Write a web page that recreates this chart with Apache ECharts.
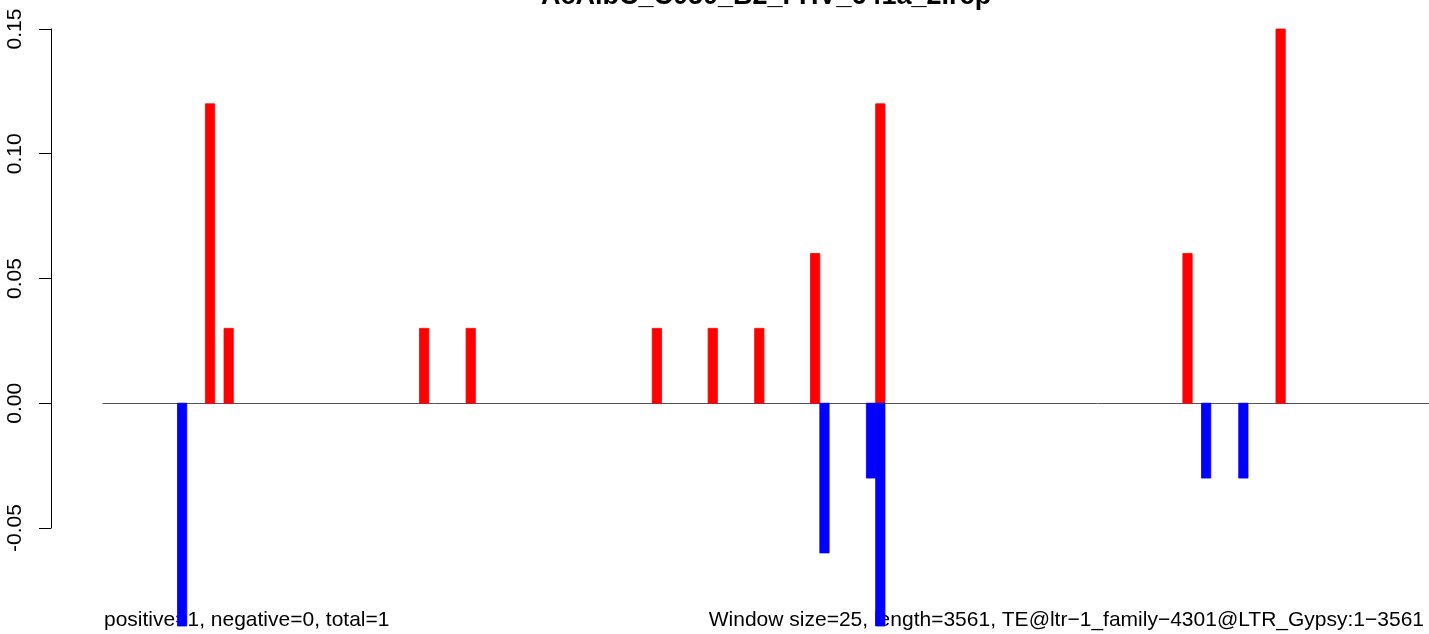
<!DOCTYPE html>
<html>
<head>
<meta charset="utf-8">
<script src="https://cdn.jsdelivr.net/npm/echarts@6/dist/echarts.min.js"></script>
<style>html,body{margin:0;padding:0;background:#fff}#c{width:1429px;height:634px}</style>
</head>
<body>
<div id="c"></div>
<script>
// ---- data ----
const titleText = "AcAlbC_C050_B2_FHV_641a_2.rep";
const seqLength = 3561;
const windowSize = 25;
const yTicks = [-0.05, 0, 0.05, 0.10, 0.15];
// window start (bp), value
const positiveStarts = [275, 325, 850, 975, 1475, 1625, 1750, 1900, 2075, 2900, 3150];
const positiveValues = [0.12, 0.03, 0.03, 0.03, 0.03, 0.03, 0.03, 0.06, 0.12, 0.06, 0.15];
const negativeStarts = [200, 1925, 2050, 2075, 2950, 3050];
const negativeValues = [-0.09, -0.06, -0.03, -0.09, -0.03, -0.03];
const leftNote = "positive=1, negative=0, total=1";
const rightNote = "Window size=25, length=3561, TE@ltr\u22121_family\u22124301@LTR_Gypsy:1\u22123561";

const chart = echarts.init(document.getElementById('c'), null, {renderer: 'canvas'});
const FONT = '"Liberation Sans", Arial, Helvetica, sans-serif';

function renderBar(color) {
  return function (params, api) {
    const start = api.value(0), val = api.value(1);
    const p0 = api.coord([start, 0]);
    const p1 = api.coord([start + windowSize, val]);
    const rect = echarts.graphic.clipRectByRect({
      x: p0[0], y: Math.min(p0[1], p1[1]),
      width: p1[0] - p0[0], height: Math.abs(p1[1] - p0[1])
    }, {
      x: params.coordSys.x, y: params.coordSys.y,
      width: params.coordSys.width, height: params.coordSys.height
    });
    return rect && {type: 'rect', shape: rect, style: {fill: color, stroke: color, lineWidth: 0.8}};
  };
}

const option = {
  animation: false,
  backgroundColor: '#ffffff',
  grid: [
    {left: 51, top: 29, width: 1, height: 499},
    {left: 103, right: 0, top: 29, height: 597}
  ],
  xAxis: [
    {gridIndex: 0, type: 'value', show: false, min: 0, max: 1},
    {gridIndex: 1, type: 'value', min: 0, max: seqLength,
     axisLine: {show: true, onZero: true, lineStyle: {color: '#555555', width: 1}},
     axisTick: {show: false}, axisLabel: {show: false}, splitLine: {show: false}}
  ],
  yAxis: [
    {gridIndex: 0, type: 'value', min: yTicks[0], max: yTicks[yTicks.length - 1], interval: 0.05,
     axisLine: {show: true, lineStyle: {color: '#000', width: 1}},
     axisTick: {show: true, length: 12, inside: false, lineStyle: {color: '#000', width: 1}},
     splitLine: {show: false},
     axisLabel: {rotate: 90, margin: 25, color: '#000', fontSize: 21, fontFamily: FONT,
       formatter: v => v.toFixed(2)}},
    {gridIndex: 1, type: 'value', min: -0.0893, max: 0.15, show: false, splitLine: {show: false}}
  ],
  series: [
    {type: 'custom', xAxisIndex: 1, yAxisIndex: 1, zlevel: 1, z: 10, renderItem: renderBar('#ff0000'),
     data: positiveStarts.map((s, i) => [s, positiveValues[i]])},
    {type: 'custom', xAxisIndex: 1, yAxisIndex: 1, zlevel: 1, z: 10, renderItem: renderBar('#0000ff'),
     data: negativeStarts.map((s, i) => [s, negativeValues[i]])}
  ],
  graphic: [
    {type: 'text', z: 0, x: 766, y: -3, style: {text: titleText, font: 'bold 27px ' + FONT, fill: '#000', align: 'center', verticalAlign: 'middle'}},
    {type: 'text', z: 0, x: 104, y: 620, style: {text: leftNote, font: '21px ' + FONT, fill: '#000', align: 'left', verticalAlign: 'middle'}},
    {type: 'text', z: 0, x: 1424, y: 620, style: {text: rightNote, font: '21px ' + FONT, fill: '#000', align: 'right', verticalAlign: 'middle'}}
  ]
};
chart.setOption(option);
</script>
</body>
</html>
